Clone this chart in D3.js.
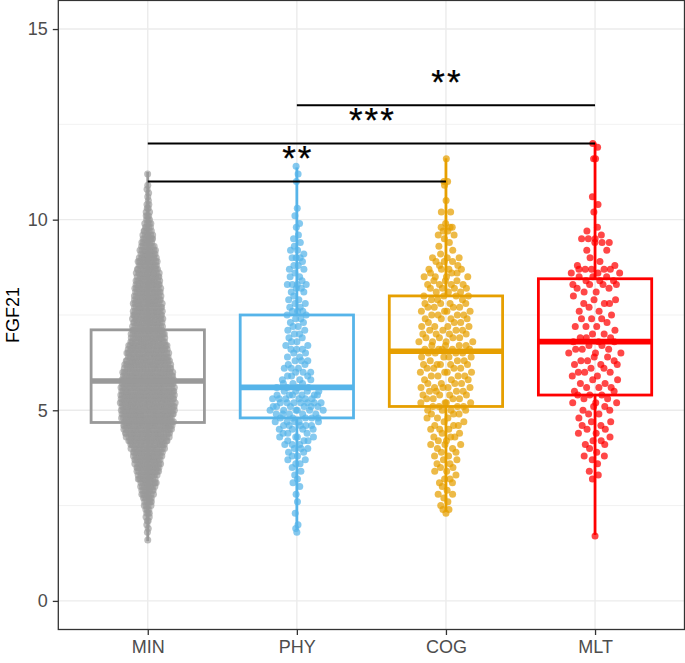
<!DOCTYPE html>
<html><head><meta charset="utf-8">
<script src="https://cdn.jsdelivr.net/npm/d3@7"></script>
<style>body{margin:0;background:#fff} svg{display:block}</style>
</head><body>
<svg id="chart" width="685" height="663"></svg>
<script>
// ---------------- DATA ----------------
const categories = ["MIN", "PHY", "COG", "MLT"];
const groupColors = ["#999999", "#56B4E9", "#E69F00", "#FF0000"];

// Point data as frequency tables: counts of observations at 0.1 steps starting at the given level
const minStart = 1.6;
const minCounts = [1,0,1,1, 1,2,2,3,3, 4,5,6,7,8, 9,10,11,12,13, 14,15,16,17,18,
  19,21,23,25,27,29,30,
  30,31,31,31,32,32,32,32,31,31,31,
  31,30,29,28,27,26,25,24,24,23,22,20,18,17,
  18,18,18,18,18, 17,17,16,16,16, 15,15,14,14,13, 13,12,12,11,10, 9,8,7,7,6,
  5,4,4,3,3, 2,2,2,1,1, 1,1,1,0,0,1];
const phyStart = 1.8;
const phyCounts = [1,1,1,0,0,1,0,0,1,0,1,0,1,1,1,1,1, 1,2,2,2,2, 3,3,3,4,3, 4,5,5,5,5,
  6,6,7,6,6, 4,4,3,3,3, 3,3,2,3,2, 2,3,2,2,2, 2,2,2,2,2, 2,3,2,2,2, 1,2,2,4,1,
  2,1,2,2,1, 3,1,2,1,1, 1,1,0,1,1, 0,1,0,1,0, 0,0,0,0,0, 1,0,1,0,1];
const cogStart = 2.3;
const cogCounts = [1,2, 1,1,1,2,1, 1,2,2,1,2, 2,2,2,2,2, 2,3,2,3,2, 3,3,2,3,3, 4,4,4,4,4,
  4,5,4,3,4, 4,4,5,3,4, 4,5,4,4,4, 4,4,4,3,4, 4,4,4,4,3, 4,3,4,4,3, 4,3,4,2,3,
  3,1,1,1,1, 1,2,2,3,1, 0,0,2,0,0, 1,0,0,0,1, 2,0,0,0,0,0,1];
const mltStart = 1.7;
const mltCounts = [1, 0,0,0,0,0,0,0,0,0,0,0,0, 0,0,1,1,1, 0,1,1,2,1, 1,2,2,1,2, 2,2,2,1,2,
  2,2,3,2,3, 2,3,2,2,2, 3,2,3,3,2, 3,3,2,3,3, 2,1,3,1,3, 1,2,1,3,2, 1,2,2,4,3,
  3,3,5,2,1, 1,0,2,0,3, 3,1,1,1,0, 0,0,1,0,1, 0,1,0,0,0, 0,0,0,0,0, 0,2,0,0,1,1];

// Boxplot statistics
const boxQ1 = [4.68, 4.80, 5.10, 5.40];
const boxMedian = [5.77, 5.60, 6.55, 6.80];
const boxQ3 = [7.11, 7.50, 8.00, 8.45];
const whiskerLow = [1.57, 1.86, 2.34, 1.73];
const whiskerHigh = [11.25, 11.37, 11.61, 12.02];

// Significance annotations
const sigFrom = ["PHY", "MIN", "MIN"];
const sigTo = ["MLT", "MLT", "COG"];
const sigY = [13, 12, 11];
const sigLabel = ["**", "***", "**"];

const yTicks = [0, 5, 10, 15];
const yMinorTicks = [2.5, 7.5, 12.5];
const yTitle = "FGF21";

// ---------------- LAYOUT ----------------
const svg = d3.select("#chart");
const P = {left: 58.3, right: 684.5, top: 0.45, bottom: 629.5};
const y = d3.scaleLinear().domain([-0.75, 15.75]).range([P.bottom, P.top]);
const x = d3.scalePoint().domain(categories).range([P.left, P.right]).padding(0.6);
const step = x.step();

function expand(start, counts) {
  const out = [];
  counts.forEach((c, i) => { const v = Math.round((start + i * 0.1) * 10) / 10; for (let k = 0; k < c; k++) out.push(v); });
  return out;
}
const groupValues = [expand(minStart, minCounts), expand(phyStart, phyCounts),
                     expand(cogStart, cogCounts), expand(mltStart, mltCounts)];

// quasirandom offsets (van der Corput sequence scaled by kernel density)
function vdc(n) { let v = 0, d = 1; while (n > 0) { d *= 2; v += (n % 2) / d; n = Math.floor(n / 2); } return v; }
function quasi(values, halfWidth) {
  const n = values.length;
  const sd = d3.deviation(values);
  const sorted = values.slice().sort((a, b) => a - b);
  const iqr = d3.quantile(sorted, 0.75) - d3.quantile(sorted, 0.25);
  const bw = 0.5 * 0.9 * Math.min(sd, iqr / 1.34) * Math.pow(n, -0.2);
  const dens = v => { let s = 0; for (const u of sorted) { const z = (v - u) / bw; s += Math.exp(-0.5 * z * z); } return s; };
  const dv = sorted.map(dens);
  const dmax = d3.max(dv);
  return sorted.map((v, i) => ({v, off: (vdc(i + 1) - 0.5) * 2 * halfWidth * dv[i] / dmax}));
}

// grid
const grid = svg.append("g");
grid.selectAll(".minor").data(yMinorTicks).join("line")
  .attr("x1", P.left).attr("x2", P.right).attr("y1", d => y(d)).attr("y2", d => y(d))
  .attr("stroke", "#EBEBEB").attr("stroke-width", 0.7);
grid.selectAll(".major").data(yTicks).join("line")
  .attr("x1", P.left).attr("x2", P.right).attr("y1", d => y(d)).attr("y2", d => y(d))
  .attr("stroke", "#EBEBEB").attr("stroke-width", 1.4);
grid.selectAll(".vmajor").data(categories).join("line")
  .attr("x1", d => x(d)).attr("x2", d => x(d)).attr("y1", P.top).attr("y2", P.bottom)
  .attr("stroke", "#EBEBEB").attr("stroke-width", 1.4);

// points
categories.forEach((c, gi) => {
  const pts = quasi(groupValues[gi], 27.5);
  svg.append("g").selectAll("circle").data(pts).join("circle")
    .attr("cx", d => x(c) + d.off).attr("cy", d => y(d.v)).attr("r", 3.5)
    .attr("fill", groupColors[gi]).attr("fill-opacity", gi === 0 ? 0.65 : 0.72);
});

// boxplots
const boxHalf = 0.38 * step;
categories.forEach((c, gi) => {
  const g = svg.append("g").attr("stroke", groupColors[gi]).attr("fill", "none");
  const cx = x(c);
  g.append("line").attr("x1", cx).attr("x2", cx).attr("y1", y(boxQ3[gi])).attr("y2", y(whiskerHigh[gi])).attr("stroke-width", 2.8);
  g.append("line").attr("x1", cx).attr("x2", cx).attr("y1", y(boxQ1[gi])).attr("y2", y(whiskerLow[gi])).attr("stroke-width", 2.8);
  g.append("rect").attr("x", cx - boxHalf).attr("width", 2 * boxHalf)
    .attr("y", y(boxQ3[gi])).attr("height", y(boxQ1[gi]) - y(boxQ3[gi])).attr("stroke-width", 2.8);
  g.append("line").attr("x1", cx - boxHalf).attr("x2", cx + boxHalf)
    .attr("y1", y(boxMedian[gi])).attr("y2", y(boxMedian[gi])).attr("stroke-width", 5.6);
});

// significance bars
sigLabel.forEach((lab, i) => {
  const x1 = x(sigFrom[i]), x2 = x(sigTo[i]), yy = y(sigY[i]);
  svg.append("line").attr("x1", x1).attr("x2", x2).attr("y1", yy).attr("y2", yy)
    .attr("stroke", "#000").attr("stroke-width", 2);
  svg.append("text").attr("x", (x1 + x2) / 2 + 1).attr("y", yy - 11.5)
    .attr("text-anchor", "middle").attr("font-family", "'Liberation Sans', Arial, sans-serif")
    .attr("font-size", 35).attr("letter-spacing", 2).attr("fill", "#000")
    .attr("stroke", "#000").attr("stroke-width", 0.25).text(lab);
});

// panel border
svg.append("rect").attr("x", P.left).attr("y", P.top).attr("width", P.right - P.left).attr("height", P.bottom - P.top)
  .attr("fill", "none").attr("stroke", "#333333").attr("stroke-width", 1.3);

// axes
const font = "'Liberation Sans', Arial, Helvetica, sans-serif";
const yAxis = svg.append("g").attr("transform", `translate(${P.left},0)`)
  .call(d3.axisLeft(y).tickValues(yTicks).tickSize(5.5).tickPadding(5).tickFormat(d3.format("d")));
const xAxis = svg.append("g").attr("transform", `translate(0,${P.bottom})`)
  .call(d3.axisBottom(x).tickSize(5.5).tickPadding(5));
[yAxis, xAxis].forEach(a => {
  a.select(".domain").remove();
  a.selectAll(".tick line").attr("stroke", "#333333").attr("stroke-width", 1.3);
  a.selectAll(".tick text").attr("fill", "#4D4D4D").attr("font-size", 18).attr("font-family", font);
});

svg.append("text").attr("transform", `translate(19,${(P.top + P.bottom) / 2}) rotate(-90)`)
  .attr("text-anchor", "middle").attr("font-family", font).attr("font-size", 18).attr("fill", "#000").text(yTitle);
</script>
</body></html>
